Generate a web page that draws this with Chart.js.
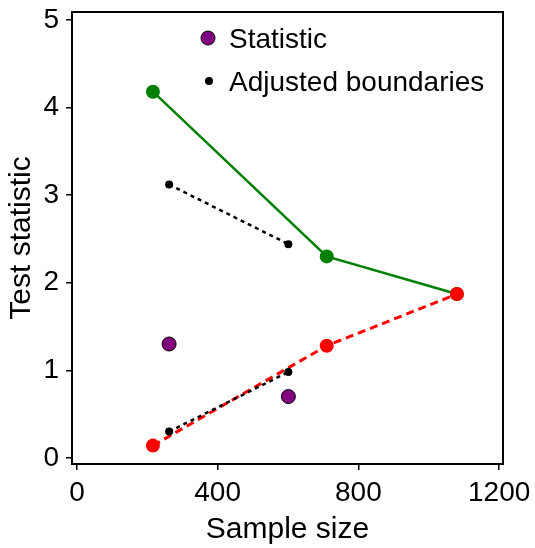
<!DOCTYPE html>
<html>
<head>
<meta charset="utf-8">
<script src="https://cdn.jsdelivr.net/npm/chart.js@4"></script>
<style>
  html, body { margin: 0; padding: 0; background: #fff; }
  #wrap { width: 535px; height: 548px; }
</style>
</head>
<body>
<div id="wrap"><canvas id="chart"></canvas></div>
<script>
// boundaries (sample size, test statistic)
const upperN = [216, 710, 1080];
const upperZ = [4.18, 2.30, 1.87];
const lowerN = [216, 710, 1080];
const lowerZ = [0.14, 1.28, 1.87];
// observed statistic
const statN = [262, 601];
const statZ = [1.30, 0.70];
// adjusted boundaries
const adjN = [262, 601];
const adjUpperZ = [3.12, 2.44];
const adjLowerZ = [0.30, 0.98];

const xTicks = [0, 400, 800, 1200];
const yTicks = [0, 1, 2, 3, 4, 5];

const FONT = 'Liberation Sans, Arial, sans-serif';

const pts = (xs, ys) => xs.map((x, i) => ({ x: x, y: ys[i] }));

// box around the plot region + legend in the top of the plot
const boxPlugin = {
  id: 'box',
  afterDraw(chart) {
    const { ctx, chartArea } = chart;
    ctx.save();
    ctx.strokeStyle = '#000';
    ctx.lineWidth = 2;
    ctx.strokeRect(chartArea.left, chartArea.top, chartArea.right - chartArea.left, chartArea.bottom - chartArea.top);

    // legend
    const lx = chartArea.left + 136;
    ctx.font = '28px ' + FONT;
    ctx.textBaseline = 'middle';

    ctx.beginPath();
    ctx.arc(lx, chartArea.top + 26, 7, 0, Math.PI * 2);
    ctx.fillStyle = '#800080';
    ctx.fill();
    ctx.lineWidth = 1;
    ctx.strokeStyle = '#000';
    ctx.stroke();
    ctx.fillStyle = '#000';
    ctx.fillText('Statistic', lx + 21, chartArea.top + 28);

    ctx.beginPath();
    ctx.arc(lx + 1, chartArea.top + 69, 4, 0, Math.PI * 2);
    ctx.fill();
    ctx.fillText('Adjusted boundaries', lx + 21, chartArea.top + 71);
    ctx.restore();
  }
};

const data = {
  datasets: [
    {
      label: 'adj upper',
      data: pts(adjN, adjUpperZ),
      borderColor: '#000',
      backgroundColor: '#000',
      borderWidth: 2.5,
      borderDash: [4, 4],
      pointRadius: 4,
      pointBorderWidth: 0,
      showLine: true
    },
    {
      label: 'adj lower',
      data: pts(adjN, adjLowerZ),
      borderColor: '#000',
      backgroundColor: '#000',
      borderWidth: 2.5,
      borderDash: [4, 4],
      pointRadius: 4,
      pointBorderWidth: 0,
      showLine: true
    },
    {
      label: 'Statistic',
      data: pts(statN, statZ),
      borderColor: '#000',
      backgroundColor: '#800080',
      pointRadius: 7,
      pointBorderWidth: 1,
      showLine: false
    },
    {
      label: 'lower',
      data: pts(lowerN, lowerZ),
      borderColor: '#ff0000',
      backgroundColor: '#ff0000',
      borderWidth: 3,
      borderDash: [8, 5],
      pointRadius: 7,
      pointBorderWidth: 0,
      showLine: true
    },
    {
      label: 'upper',
      data: pts(upperN, upperZ),
      borderColor: '#008000',
      backgroundColor: '#008000',
      borderWidth: 2.5,
      pointRadius: 7,
      pointBorderWidth: 0,
      showLine: true
    }
  ]
};

new Chart(document.getElementById('chart'), {
  type: 'scatter',
  data: data,
  plugins: [boxPlugin],
  options: {
    responsive: true,
    maintainAspectRatio: false,
    animation: false,
    layout: { padding: { left: 0, right: 32, top: 12, bottom: 0 } },
    plugins: {
      legend: { display: false },
      tooltip: { enabled: false }
    },
    scales: {
      x: {
        type: 'linear',
        min: -14,
        max: 1211,
        afterBuildTicks: (scale) => { scale.ticks = xTicks.map(v => ({ value: v })); },
        afterFit: (scale) => {
          scale.height = 84;
          scale.paddingLeft = 0;
          scale.paddingRight = 0;
        },
        border: { display: false },
        grid: { drawOnChartArea: false, drawTicks: true, tickLength: 6, color: '#000', lineWidth: 1.5 },
        ticks: {
          color: '#000',
          padding: 6,
          font: { family: FONT, size: 28 },
          maxRotation: 0,
          callback: (v) => String(v)
        },
        title: { display: true, text: 'Sample size', color: '#000', font: { family: FONT, size: 30 }, padding: { top: 0, bottom: 0 } }
      },
      y: {
        type: 'linear',
        min: -0.07,
        max: 5.09,
        afterBuildTicks: (scale) => { scale.ticks = yTicks.map(v => ({ value: v })); },
        afterFit: (scale) => {
          scale.width = 72;
          scale.paddingTop = 0;
          scale.paddingBottom = 0;
        },
        border: { display: false },
        grid: { drawOnChartArea: false, drawTicks: true, tickLength: 6, color: '#000', lineWidth: 1.5 },
        ticks: { color: '#000', padding: 7, font: { family: FONT, size: 28 }, callback: (v) => String(v) },
        title: { display: true, text: 'Test statistic', color: '#000', font: { family: FONT, size: 30 }, padding: { top: 4, bottom: 0 } }
      }
    }
  }
});
</script>
</body>
</html>
